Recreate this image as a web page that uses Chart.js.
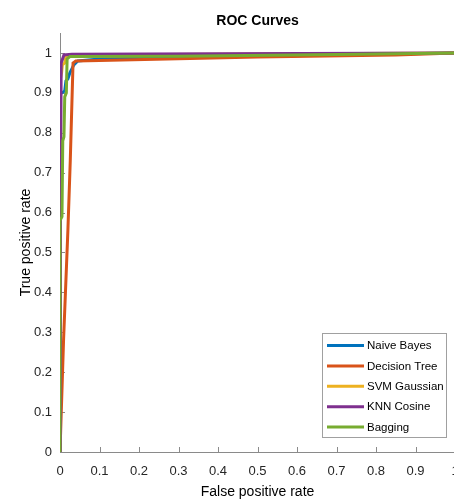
<!DOCTYPE html>
<html>
<head>
<meta charset="utf-8">
<script src="https://cdn.jsdelivr.net/npm/chart.js@4/dist/chart.umd.min.js"></script>
<style>
  html, body { margin: 0; padding: 0; background: #fff; overflow: hidden; width: 454px; height: 502px; }
  canvas { display: block; }
</style>
</head>
<body>
<canvas id="c" width="480" height="502"></canvas>
<script>
// ---- data ----
const seriesNames = ['Naive Bayes', 'Decision Tree', 'SVM Gaussian', 'KNN Cosine', 'Bagging'];
const seriesColors = ['#0072BD', '#D95319', '#EDB120', '#7E2F8E', '#77AC30'];

const nbFpr  = [0, 0, 0.005, 0.012, 0.015, 0.02, 0.025, 0.03, 0.035, 0.045, 0.1, 0.5, 1];
const nbTpr  = [0, 0.9, 0.9, 0.905, 0.93, 0.935, 0.95, 0.96, 0.97, 0.98, 0.985, 0.992, 1];

const dtFpr  = [0, 0.009, 0.02, 0.026, 0.033, 0.04, 0.1, 0.5, 0.85, 1];
const dtTpr  = [0, 0.28, 0.556, 0.73, 0.975, 0.98, 0.981, 0.99, 0.995, 1];

const svmFpr = [0, 0, 0.004, 0.006, 0.012, 0.015, 0.03, 1];
const svmTpr = [0, 0.93, 0.95, 0.97, 0.975, 0.99, 0.995, 1];

const knnFpr = [0, 0, 0.002, 0.003, 0.01, 0.03, 1];
const knnTpr = [0, 0.58, 0.58, 0.975, 0.995, 0.997, 1];

const bagFpr = [0, 0, 0.005, 0.007, 0.01, 0.012, 0.016, 0.018, 0.025, 0.3, 0.7, 1];
const bagTpr = [0, 0.58, 0.59, 0.78, 0.79, 0.89, 0.9, 0.985, 0.991, 0.992, 0.996, 1];

const xTickValues = [0, 0.1, 0.2, 0.3, 0.4, 0.5, 0.6, 0.7, 0.8, 0.9, 1];
const yTickValues = [0, 0.1, 0.2, 0.3, 0.4, 0.5, 0.6, 0.7, 0.8, 0.9, 1];

const allFpr = [nbFpr, dtFpr, svmFpr, knnFpr, bagFpr];
const allTpr = [nbTpr, dtTpr, svmTpr, knnTpr, bagTpr];

const FONT = "'Liberation Sans', Arial, sans-serif";

const datasets = seriesNames.map((name, i) => ({
  label: name,
  data: allFpr[i].map((x, k) => ({ x: x, y: allTpr[i][k] })),
  borderColor: seriesColors[i],
  backgroundColor: seriesColors[i],
  borderWidth: 3,
  showLine: true,
  pointRadius: 0,
  fill: false,
  tension: 0,
  order: seriesNames.length - i
}));

const inwardTicks = {
  id: 'inwardTicks',
  beforeDatasetsDraw(chart) {
    const ctx = chart.ctx;
    const xs = chart.scales.x, ys = chart.scales.y;
    const a = chart.chartArea;
    ctx.save();
    ctx.strokeStyle = '#8a8a8a';
    ctx.lineWidth = 1;
    ctx.beginPath();
    xTickValues.forEach(v => {
      const px = Math.round(xs.getPixelForValue(v)) + 0.5;
      ctx.moveTo(px, a.bottom); ctx.lineTo(px, a.bottom - 5);
    });
    yTickValues.forEach(v => {
      const py = Math.round(ys.getPixelForValue(v)) + 0.5;
      ctx.moveTo(a.left, py); ctx.lineTo(a.left + 5, py);
    });
    ctx.stroke();
    ctx.restore();
  }
};

const boxLegend = {
  id: 'boxLegend',
  afterDraw(chart) {
    const ctx = chart.ctx;
    const a = chart.chartArea;
    const right = a.right - 9, bottom = a.bottom - 15;
    const w = 124, h = 104;
    const left = right - w, top = bottom - h;
    ctx.save();
    ctx.fillStyle = '#fff';
    ctx.fillRect(left, top, w, h);
    ctx.strokeStyle = '#a0a0a0';
    ctx.lineWidth = 1;
    ctx.strokeRect(Math.round(left) + 0.5, Math.round(top) + 0.5, w, h);
    ctx.font = '11.5px ' + FONT;
    ctx.textBaseline = 'middle';
    ctx.textAlign = 'left';
    seriesNames.forEach((name, i) => {
      const y = top + 12.5 + i * 20.4;
      ctx.strokeStyle = seriesColors[i];
      ctx.lineWidth = 3;
      ctx.beginPath();
      ctx.moveTo(left + 5, y); ctx.lineTo(left + 42, y);
      ctx.stroke();
      ctx.fillStyle = '#000';
      ctx.fillText(name, left + 45, y + 0.5);
    });
    ctx.restore();
  }
};

const fmt = v => String(Math.round(v * 10) / 10);

new Chart(document.getElementById('c'), {
  type: 'scatter',
  data: { datasets: datasets },
  plugins: [inwardTicks, boxLegend],
  options: {
    responsive: false,
    animation: false,
    layout: { padding: { left: 0, right: 25, top: 0, bottom: 0 } },
    plugins: {
      legend: { display: false },
      tooltip: { enabled: false },
      title: {
        display: true,
        text: 'ROC Curves',
        fullSize: false,
        color: '#000',
        font: { family: FONT, size: 14, weight: 'bold' },
        padding: { top: 12.6, bottom: 3.6 }
      }
    },
    scales: {
      x: {
        type: 'linear',
        min: 0, max: 1,
        afterFit(s) { s.height = 50; },
        afterBuildTicks(s) { s.ticks = xTickValues.map(v => ({ value: v })); },
        grid: { color: 'rgba(0,0,0,0)', drawTicks: false },
        border: { display: true, color: '#8a8a8a', width: 1 },
        ticks: { callback: fmt, color: '#262626', font: { family: FONT, size: 13 }, padding: 12, maxRotation: 0, autoSkip: false },
        title: { display: true, text: 'False positive rate', color: '#000', font: { family: FONT, size: 14 }, padding: { top: 0, bottom: 1.6 } }
      },
      y: {
        type: 'linear',
        min: 0, max: 1.05,
        afterFit(s) { s.width = 60; },
        afterBuildTicks(s) { s.ticks = yTickValues.map(v => ({ value: v })); },
        grid: { color: 'rgba(0,0,0,0)', drawTicks: false },
        border: { display: true, color: '#8a8a8a', width: 1 },
        ticks: { callback: fmt, color: '#262626', font: { family: FONT, size: 13 }, padding: 8, autoSkip: false },
        title: { display: true, text: 'True positive rate', color: '#000', font: { family: FONT, size: 14 }, padding: { top: 17.5, bottom: 0 } }
      }
    }
  }
});
</script>
</body>
</html>
